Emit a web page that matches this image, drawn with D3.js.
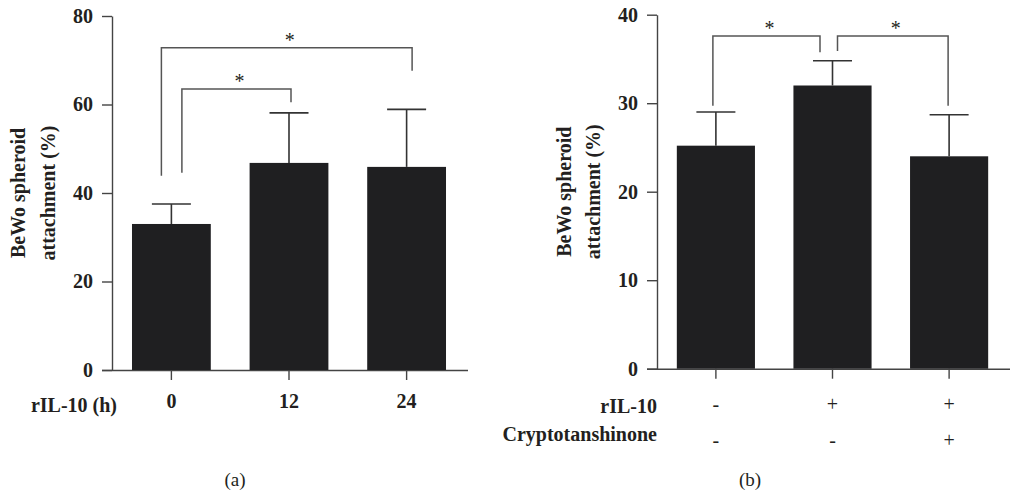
<!DOCTYPE html>
<html>
<head>
<meta charset="utf-8">
<script src="https://cdn.jsdelivr.net/npm/d3@7"></script>
<style>
  body { margin: 0; background: #fff; }
  svg { display: block; }
  .tick text { font-family: "Liberation Serif", "Times New Roman", serif; font-weight: bold; font-size: 20px; fill: #231f20; }
  .lbl { font-family: "Liberation Serif", "Times New Roman", serif; font-weight: bold; font-size: 20px; fill: #231f20; }
  .sym { font-family: "Liberation Serif", "Times New Roman", serif; font-size: 20px; fill: #231f20; }
  .cap { font-family: "Liberation Serif", "Times New Roman", serif; font-size: 19px; fill: #231f20; }
</style>
</head>
<body>
<svg id="chart" width="1010" height="494"></svg>
<script>
// Panel (a): attachment after rIL-10 treatment for 0/12/24 h
const timeCategories = ['0', '12', '24'];
const timeMeans = [33.0, 46.8, 45.9];
const timeErrors = [4.5, 11.3, 13.0];
const timeTicks = [0, 20, 40, 60, 80];
// significance brackets: [from index, to index, bracket height, left leg end, right leg end]
const timeSig = [
  [0, 2, 72.8, 43.9, 67.6],
  [0, 1, 63.5, 44.6, 60.5]
];

// Panel (b): rIL-10 with / without Cryptotanshinone
const groupCategories = ['ctrl', 'il10', 'il10crypto'];
const rIL10Row = ['-', '+', '+'];
const cryptoRow = ['-', '-', '+'];
const groupMeans = [25.2, 32.0, 24.0];
const groupErrors = [3.8, 2.8, 4.7];
const groupTicks = [0, 10, 20, 30, 40];
const groupSig = [
  [0, 1, 37.6, 29.7, 35.75],
  [1, 2, 37.6, 35.9, 29.7]
];

const svg = d3.select('#chart');
const lineCol = '#444';

function drawPanel(opts) {
  const g = svg.append('g');

  const y = d3.scaleLinear().domain(opts.yDomain).range([opts.y0, opts.y1]);
  const x = d3.scaleBand()
    .domain(opts.categories)
    .range([opts.axisX, opts.xEnd])
    .paddingInner(0.33)
    .paddingOuter(0.17);

  // y axis
  const yAxis = g.append('g')
    .attr('transform', `translate(${opts.axisX},0)`)
    .call(d3.axisLeft(y).tickValues(opts.ticks).tickSize(10).tickSizeOuter(0).tickPadding(9));
  yAxis.select('.domain').attr('stroke', lineCol).attr('stroke-width', 1.4);
  yAxis.selectAll('.tick line').attr('stroke', lineCol).attr('stroke-width', 1.4);

  // x axis
  const xAxis = g.append('g')
    .attr('transform', `translate(0,${opts.y0})`)
    .call(d3.axisBottom(x).tickSize(10).tickSizeOuter(0).tickPadding(14)
      .tickFormat(opts.xLabels ? (d, i) => opts.xLabels[i] : () => ''));
  xAxis.select('.domain')
    .attr('d', `M${opts.axisX - 10},0.5H${opts.xEnd + 2}`)
    .attr('stroke', lineCol).attr('stroke-width', 1.4);
  xAxis.selectAll('.tick line').attr('stroke', lineCol).attr('stroke-width', 1.4);
  xAxis.selectAll('.tick text').attr('dy', '0.71em');

  // bars
  g.selectAll('rect.bar')
    .data(opts.means)
    .join('rect')
    .attr('class', 'bar')
    .attr('x', (d, i) => x(opts.categories[i]))
    .attr('width', x.bandwidth())
    .attr('y', d => y(d))
    .attr('height', d => y(0) - y(d))
    .attr('fill', '#1f1f21');

  // error bars (upper only)
  const cx = i => x(opts.categories[i]) + x.bandwidth() / 2;
  const capHalf = 19.5;
  const err = g.append('g').attr('stroke', '#333').attr('stroke-width', 1.6).attr('fill', 'none');
  opts.means.forEach((m, i) => {
    const top = y(m + opts.errors[i]);
    err.append('line').attr('x1', cx(i)).attr('x2', cx(i)).attr('y1', y(m)).attr('y2', top);
    err.append('line').attr('x1', cx(i) - capHalf).attr('x2', cx(i) + capHalf).attr('y1', top).attr('y2', top);
  });

  // significance brackets
  const br = g.append('g');
  opts.sig.forEach((s, k) => {
    const [a, b, h, ya, yb] = s;
    const off = opts.sigOffsets[k];
    const xa = cx(a) + off[0];
    const xb = cx(b) + off[1];
    br.append('path')
      .attr('d', `M${xa},${y(ya)}V${y(h)}H${xb}V${y(yb)}`)
      .attr('fill', 'none').attr('stroke', '#555').attr('stroke-width', 1.5);
    br.append('text')
      .attr('class', 'sym')
      .attr('x', (xa + xb) / 2 + 3)
      .attr('y', y(h) - 1)
      .attr('text-anchor', 'middle')
      .attr('font-size', 18)
      .text('*');
  });

  // y axis title
  const title = g.append('text')
    .attr('class', 'lbl')
    .attr('text-anchor', 'middle')
    .attr('transform', `translate(0,${(opts.y0 + opts.y1) / 2}) rotate(-90)`);
  title.append('tspan').attr('x', 0).attr('y', opts.titleX[0]).text('BeWo spheroid');
  title.append('tspan').attr('x', 0).attr('y', opts.titleX[1]).text('attachment (%)');

  return { g, x, y, cx };
}

// Panel (a)
const pa = drawPanel({
  categories: timeCategories,
  xLabels: timeCategories,
  means: timeMeans,
  errors: timeErrors,
  ticks: timeTicks,
  yDomain: [0, 80],
  y0: 370, y1: 16,
  axisX: 112, xEnd: 466,
  sig: timeSig,
  sigOffsets: [[-10, 5.5], [10.5, 2]],
  titleX: [25, 55]
});
pa.g.append('text').attr('class', 'lbl')
  .attr('x', 117).attr('y', 412).attr('text-anchor', 'end').text('rIL-10 (h)');
pa.g.append('text').attr('class', 'cap')
  .attr('x', 235).attr('y', 486).attr('text-anchor', 'middle').text('(a)');

// Panel (b)
const pb = drawPanel({
  categories: groupCategories,
  xLabels: null,
  means: groupMeans,
  errors: groupErrors,
  ticks: groupTicks,
  yDomain: [0, 40],
  y0: 368.7, y1: 14.7,
  axisX: 657, xEnd: 1008,
  sig: groupSig,
  sigOffsets: [[-3, -12.5], [5, -1]],
  titleX: [571, 600]
});
pb.g.append('text').attr('class', 'lbl')
  .attr('x', 657).attr('y', 413).attr('text-anchor', 'end').text('rIL-10');
pb.g.append('text').attr('class', 'lbl')
  .attr('x', 657).attr('y', 441).attr('text-anchor', 'end').text('Cryptotanshinone');
[[rIL10Row, 404], [cryptoRow, 440]].forEach(([row, yy]) => {
  pb.g.selectAll(null)
    .data(row)
    .join('text')
    .attr('class', 'sym')
    .attr('x', (d, i) => pb.cx(i))
    .attr('y', yy)
    .attr('text-anchor', 'middle')
    .attr('dominant-baseline', 'central')
    .text(d => d);
});
pb.g.append('text').attr('class', 'cap')
  .attr('x', 750).attr('y', 486).attr('text-anchor', 'middle').text('(b)');
</script>
</body>
</html>
